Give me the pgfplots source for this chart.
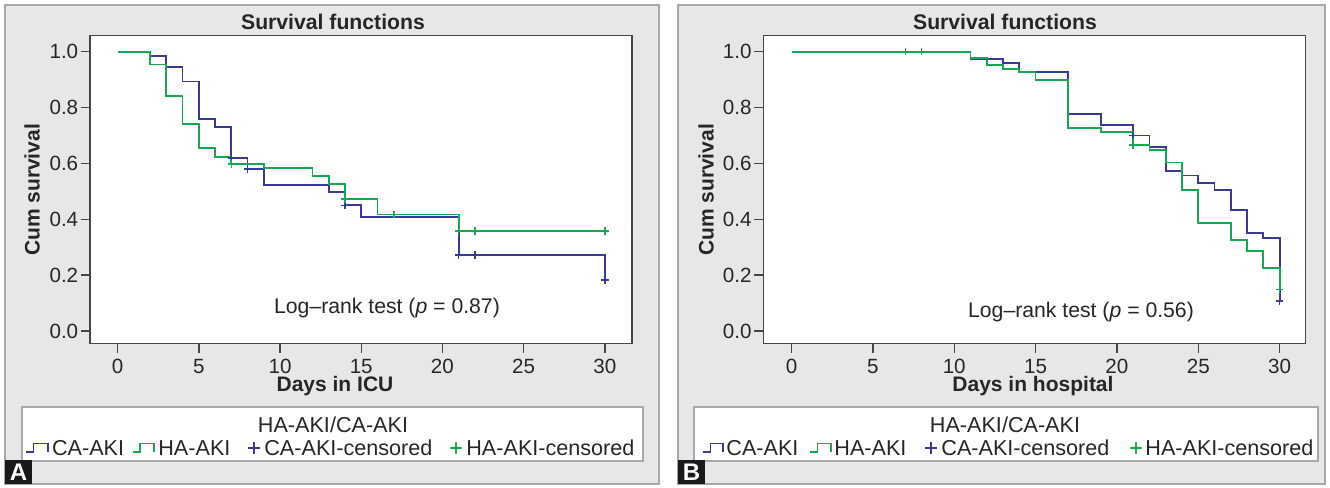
\documentclass[border=0pt]{standalone}
\usepackage{fontspec}
\setmainfont{Liberation Sans}
\usepackage{pgfplots}
\pgfplotsset{compat=1.18}

\definecolor{kmblue}{RGB}{58,58,150}
\definecolor{kmgreen}{RGB}{24,168,82}
\definecolor{panelgray}{RGB}{230,231,232}
\definecolor{edgegray}{RGB}{168,168,170}
\definecolor{framegray}{RGB}{70,70,70}

\pgfplotsset{
  kmaxis/.style={
    scale only axis,
    width=271pt, height=154pt,
    ymin=-0.0448, ymax=1.058,
    xtick={0,5,...,30},
    ytick={0,0.2,0.4,0.6,0.8,1.0},
    /pgf/number format/assume math mode=true,
    tick label style={font=\fontsize{10.3}{12}\selectfont, text=black!85},
    xticklabel style={inner ysep=1.5pt, yshift=-1.5pt},
    yticklabel style={inner xsep=1.2pt,
      /pgf/number format/fixed, /pgf/number format/fixed zerofill,
      /pgf/number format/precision=1},
    tick pos=left,
    tick align=outside,
    major tick length=4.5pt,
    tick style={framegray, line width=0.7pt},
    axis line style={framegray, line width=0.7pt},
    axis background/.style={fill=white},
  },
  km/.style={const plot, mark=none, line width=0.9pt},
  cens/.style={only marks, mark=+, mark size=1.9pt, mark options={line width=0.8pt}},
}

\begin{document}
\begin{tikzpicture}
% page and panels, in reference pixels
\begin{scope}[x={(0.5pt,0pt)}, y={(0pt,-0.5pt)}]
  \fill[white] (0,0) rectangle (1330,487);
  \filldraw[fill=panelgray, draw=edgegray, line width=1pt] (5,5) rectangle (659,484);
  \filldraw[fill=panelgray, draw=edgegray, line width=1pt] (678,5) rectangle (1325,484);
\end{scope}

% ---- panel A: days in ICU
\begin{axis}[kmaxis, at={(45pt,-171.75pt)}, anchor=south west,
    xmin=-1.70, xmax=31.67]
\addplot[km, kmblue] coordinates {
  (0,1) (2,0.985) (3,0.945) (4,0.893) (5,0.758) (6,0.729) (7,0.620)
  (8,0.579) (9,0.522) (13,0.498) (14,0.450) (15,0.409) (21,0.273)
  (30,0.273) (30,0.183)
};
\addplot[km, kmgreen] coordinates {
  (0,1) (2,0.954) (3,0.842) (4,0.741) (5,0.654) (6,0.622) (7,0.597)
  (9,0.584) (12,0.555) (13,0.525) (14,0.472) (16,0.417) (21,0.359)
  (30,0.359)
};
\addplot[cens, kmblue] coordinates {
  (7,0.620) (8,0.579) (14,0.450) (21,0.273) (22,0.273) (30,0.183)
};
\addplot[cens, kmgreen] coordinates {
  (7,0.597) (14,0.472) (17,0.417) (21,0.359) (22,0.359) (30,0.359)
};
\end{axis}

% ---- panel B: days in hospital
\begin{axis}[kmaxis, at={(381.65pt,-171.75pt)}, anchor=south west,
    xmin=-1.735, xmax=31.58]
\addplot[km, kmblue] coordinates {
  (0,1) (11,0.973) (13,0.960) (14,0.926) (17,0.777) (19,0.737)
  (21,0.700) (22,0.659) (23,0.572) (24,0.557) (25,0.531) (26,0.505)
  (27,0.432) (28,0.350) (29,0.333) (30,0.333) (30,0.107)
};
\addplot[km, kmgreen] coordinates {
  (0,1) (11,0.978) (12,0.951) (13,0.938) (14,0.926) (15,0.900)
  (17,0.728) (19,0.713) (21,0.665) (22,0.647) (23,0.603) (24,0.506)
  (25,0.386) (27,0.327) (28,0.286) (29,0.226) (30,0.226) (30,0.148)
};
\addplot[cens, kmblue] coordinates {
  (21,0.700) (30,0.107)
};
\addplot[cens, kmgreen] coordinates {
  (7,1) (8,1) (21,0.665) (30,0.148)
};
\end{axis}

% texts, legends and panel letters
\begin{scope}[x={(0.5pt,0pt)}, y={(0pt,-0.5pt)},
    ttl/.style={font=\bfseries\fontsize{10.6}{12}\selectfont, text=black!85},
    lab/.style={font=\bfseries\fontsize{10.5}{12}\selectfont, text=black!85, inner sep=0pt},
    txt/.style={font=\fontsize{10.6}{12}\selectfont, text=black!85},
    leg/.style={font=\fontsize{10.8}{12}\selectfont, text=black!85, anchor=west, inner sep=0pt}]
  % panel A
  \node[ttl] at (333,22) {Survival functions};
  \node[lab] at (335,386) {Days in ICU};
  \node[lab, rotate=90] at (32,190) {Cum survival};
  \node[txt] at (387,308) {Log--rank test (\textit{p} = 0.87)};
  \filldraw[fill=white, draw=edgegray, line width=0.8pt] (21.7,406.7) rectangle (643,461);
  \node[txt, font=\fontsize{10.8}{12}\selectfont] at (333,425) {HA-AKI/CA-AKI};
  \draw[kmblue, line width=0.8pt] (26,451.7) -- (33.3,451.7) -- (33.3,443.3) -- (47.7,443.3) -- (47.7,451.7);
  \node[leg] at (51.7,448) {CA-AKI};
  \draw[kmgreen, line width=0.8pt] (132.7,451.7) -- (140,451.7) -- (140,443.3) -- (154,443.3) -- (154,451.7);
  \node[leg] at (158,448) {HA-AKI};
  \draw[kmblue, line width=1pt] (248,448) -- (260,448) (254,442) -- (254,454);
  \node[leg] at (264,448) {CA-AKI-censored};
  \draw[kmgreen, line width=1pt] (450,448) -- (462,448) (456,442) -- (456,454);
  \node[leg] at (466,448) {HA-AKI-censored};
  \fill[black!90] (5,460) rectangle (32.3,484);
  \node[font=\bfseries\fontsize{12}{12}\selectfont, text=white] at (18.6,472.5) {A};
  % panel B
  \node[ttl] at (1005,22) {Survival functions};
  \node[lab] at (1033,386) {Days in hospital};
  \node[lab, rotate=90] at (706,190) {Cum survival};
  \node[txt] at (1081,312) {Log--rank test (\textit{p} = 0.56)};
  \filldraw[fill=white, draw=edgegray, line width=0.8pt] (694,406.7) rectangle (1318,461);
  \node[txt, font=\fontsize{10.8}{12}\selectfont] at (1005,425) {HA-AKI/CA-AKI};
  \draw[kmblue, line width=0.8pt] (703,451.7) -- (710.3,451.7) -- (710.3,443.3) -- (723,443.3) -- (723,451.7);
  \node[leg] at (726,448) {CA-AKI};
  \draw[kmgreen, line width=0.8pt] (810,451.7) -- (817.3,451.7) -- (817.3,443.3) -- (831,443.3) -- (831,451.7);
  \node[leg] at (834,448) {HA-AKI};
  \draw[kmblue, line width=1pt] (925,448) -- (937,448) (931,442) -- (931,454);
  \node[leg] at (941,448) {CA-AKI-censored};
  \draw[kmgreen, line width=1pt] (1130,448) -- (1142,448) (1136,442) -- (1136,454);
  \node[leg] at (1145,448) {HA-AKI-censored};
  \fill[black!90] (678,460) rectangle (705,484);
  \node[font=\bfseries\fontsize{12}{12}\selectfont, text=white] at (691.5,472.5) {B};
\end{scope}
\end{tikzpicture}
\end{document}
